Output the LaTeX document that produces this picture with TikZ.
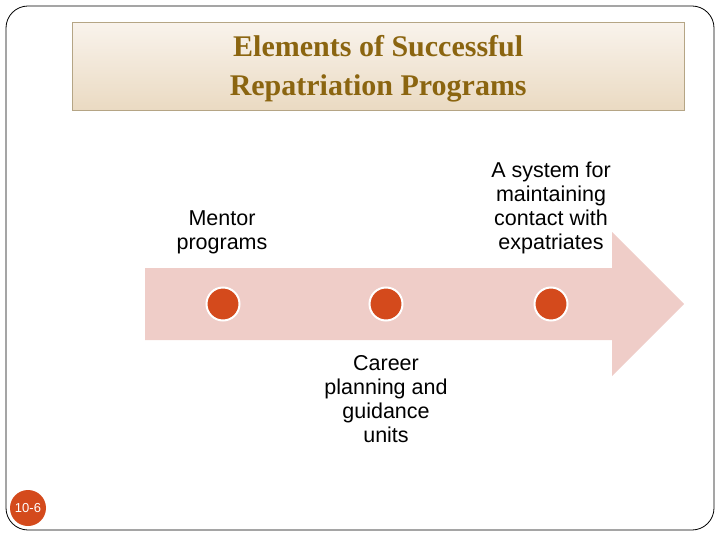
\documentclass[tikz,border=0pt]{standalone}
\usepackage{fontspec}
\setmainfont{Liberation Sans}
\newfontfamily\titlefont{Liberation Serif}
\definecolor{arrowpink}{HTML}{EFCDC8}
\definecolor{dotred}{HTML}{D44A1C}
\definecolor{titlebrown}{HTML}{8B6510}
\definecolor{boxtop}{HTML}{F9F3EC}
\definecolor{boxbot}{HTML}{EADAC2}
\definecolor{boxline}{HTML}{B5A585}
\begin{document}
\begin{tikzpicture}[x=1pt,y=-1pt,
  lbl/.style={font=\fontsize{21.5}{24}\selectfont, align=center, text=black, inner sep=0pt},
  dot/.style={circle, fill=dotred, draw=white, line width=2pt, minimum size=33pt, inner sep=0pt}]
\useasboundingbox (0,0) rectangle (720,540);
\draw[black, line width=0.8pt, rounded corners=22pt] (6,6) rectangle (714,530);
\node[draw=boxline, top color=boxtop, bottom color=boxbot, minimum width=612pt, minimum height=88pt, anchor=north west, inner sep=0pt] (title) at (72,22) {};
\node[font=\titlefont\bfseries\fontsize{30}{39}\selectfont, text=titlebrown, align=center] (tt) at ([yshift=-3pt]title.center) {Elements of Successful\\Repatriation Programs};
\fill[arrowpink] (145,268) -- (612,268) -- (612,232) -- (684,304) -- (612,376) -- (612,340) -- (145,340) -- cycle;
\node[dot] (d1) at (223,304) {};
\node[dot] (d2) at (386,304) {};
\node[dot] (d3) at (551,304) {};
\node[lbl] (l1) at (222,232) {Mentor\\programs};
\node[lbl] (l3) at (551,208) {A system for\\maintaining\\contact with\\expatriates};
\node[lbl] (l2) at (386,399) {Career\\planning and\\guidance\\units};
\node[circle, fill=dotred, minimum size=36pt, inner sep=0pt, text=white, font=\fontsize{13}{15}\selectfont] (badge) at (28,508) {10-6};
\end{tikzpicture}
\end{document}
